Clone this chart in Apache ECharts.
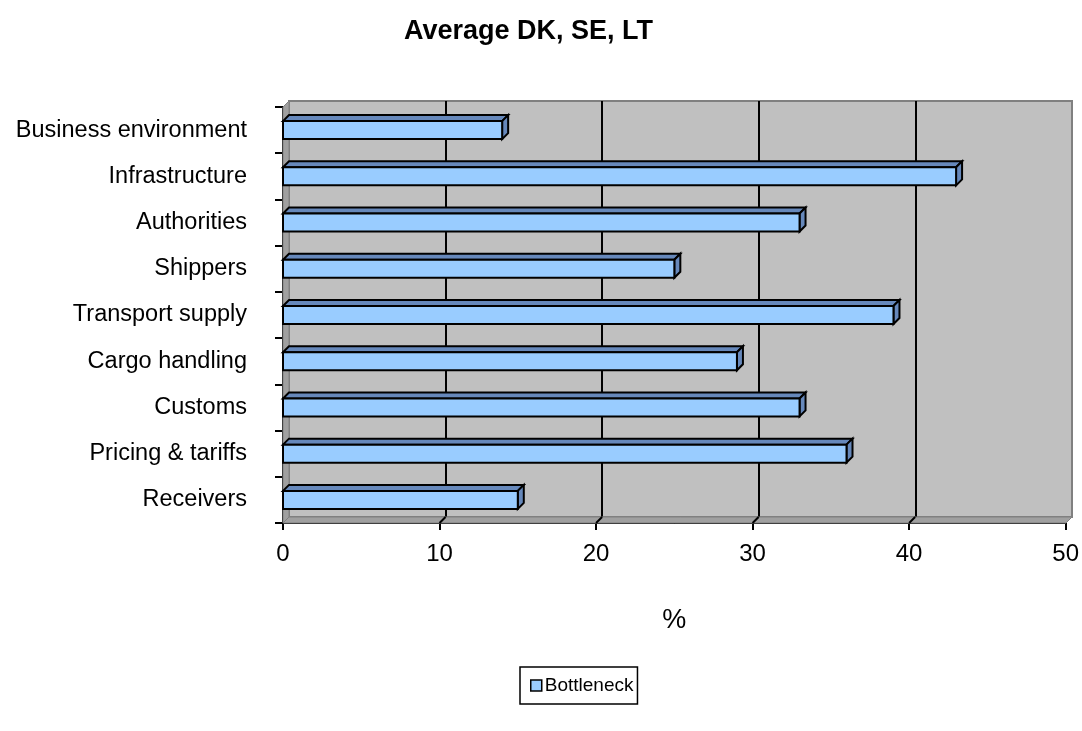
<!DOCTYPE html>
<html>
<head>
<meta charset="utf-8">
<script src="https://cdn.jsdelivr.net/npm/echarts@6/dist/echarts.min.js"></script>
<style>
  html, body { margin: 0; padding: 0; background: #fff; }
  #main { width: 1082px; height: 731px; }
</style>
</head>
<body>
<div id="main"></div>
<script>
// data
const categories = ['Business environment', 'Infrastructure', 'Authorities', 'Shippers', 'Transport supply',
  'Cargo handling', 'Customs', 'Pricing & tariffs', 'Receivers'];
const bottleneck = [14, 43, 33, 25, 39, 29, 33, 36, 15];
const xTicks = [0, 10, 20, 30, 40, 50];

// 3d depth of the excel style walls / bars
const D = 6;
const front = { left: 283, top: 107, right: 16, bottom: 208 };
const back = { left: front.left + D, top: front.top - D, right: front.right - D, bottom: front.bottom + D };

const font = 'Liberation Sans, Arial, sans-serif';
const chart = echarts.init(document.getElementById('main'));

function renderBar(params, api) {
  const v = api.value(0);
  const p0 = api.coord([0, api.value(1)]);
  const p1 = api.coord([v, api.value(1)]);
  const h = api.size([0, 1])[1] * 0.39;
  const top = p0[1] - h / 2, bot = p0[1] + h / 2;
  const x0 = p0[0], x1 = p1[0];
  const edge = { stroke: '#000', lineWidth: 2 };
  return {
    type: 'group',
    children: [
      { type: 'polygon', shape: { points: [[x0, top], [x0 + D, top - D], [x1 + D, top - D], [x1, top]] },
        style: Object.assign({ fill: '#6688BB' }, edge) },
      { type: 'polygon', shape: { points: [[x1, top], [x1 + D, top - D], [x1 + D, bot - D], [x1, bot]] },
        style: Object.assign({ fill: '#6688BB' }, edge) },
      { type: 'rect', shape: { x: x0, y: top, width: x1 - x0, height: h },
        style: Object.assign({ fill: '#99CCFF' }, edge) }
    ]
  };
}

const option = {
  animation: false,
  textStyle: { fontFamily: font },
  title: {
    text: 'Average DK, SE, LT',
    left: 399, top: 13,
    textStyle: { fontFamily: font, fontSize: 27, fontWeight: 'bold', color: '#000' }
  },
  legend: {
    data: [{ name: 'Bottleneck', itemStyle: { color: '#99CCFF', borderColor: '#000', borderWidth: 1.5 } }],
    left: 520, top: 667,
    icon: 'rect', itemWidth: 11, itemHeight: 11,
    borderColor: '#000', borderWidth: 1.5, borderRadius: 0,
    padding: [9, 4, 9, 10],
    textStyle: { fontFamily: font, fontSize: 19, color: '#000', padding: [0, 0, 0, -2] }
  },
  grid: [
    Object.assign({ show: true, backgroundColor: '#C0C0C0', borderColor: '#808080', borderWidth: 2 }, back),
    Object.assign({}, front)
  ],
  xAxis: [
    {
      gridIndex: 0, type: 'value', min: 0, max: 50, interval: 10,
      axisLine: { show: false }, axisTick: { show: false }, axisLabel: { show: false },
      splitLine: { show: true, showMinLine: false, showMaxLine: false, lineStyle: { color: '#000', width: 2 } }
    },
    {
      gridIndex: 1, type: 'value', min: xTicks[0], max: xTicks[xTicks.length - 1], interval: 10,
      name: '%', nameLocation: 'middle', nameGap: 84,
      nameTextStyle: { fontFamily: font, fontSize: 27, color: '#000' },
      axisLine: { show: true, lineStyle: { color: '#000', width: 2 } },
      axisTick: { show: true, length: 7, lineStyle: { color: '#000', width: 2 } },
      axisLabel: { fontSize: 24, color: '#000', margin: 19, fontFamily: font },
      splitLine: { show: false }
    }
  ],
  yAxis: [
    { gridIndex: 0, type: 'category', data: categories, inverse: true, show: false },
    {
      gridIndex: 1, type: 'category', data: categories, inverse: true,
      axisLine: { show: true, lineStyle: { color: '#000', width: 2 } },
      axisTick: { show: true, length: 8, lineStyle: { color: '#000', width: 2 } },
      axisLabel: { fontSize: 23.5, color: '#000', margin: 36, fontFamily: font },
      splitLine: { show: false }
    }
  ],
  series: [{
    name: 'Bottleneck',
    type: 'custom',
    xAxisIndex: 1, yAxisIndex: 1,
    itemStyle: { color: '#99CCFF', borderColor: '#000', borderWidth: 1 },
    renderItem: renderBar,
    encode: { x: 0, y: 1 },
    data: bottleneck.map((v, i) => [v, categories[i]]),
    z: 5
  }]
};
chart.setOption(option);

// floor, left wall and the little tick connectors (from axis pixel positions)
const W = chart.getWidth(), H = chart.getHeight();
const fx0 = front.left, fx1 = W - front.right, fy0 = front.top, fy1 = H - front.bottom;
const wallStyle = { fill: '#A0A0A0', stroke: '#808080', lineWidth: 1 };
const graphics = [
  { type: 'polygon', z: 1, shape: { points: [[fx0, fy1], [fx0 + D, fy1 - D], [fx1 + D, fy1 - D], [fx1, fy1]] }, style: wallStyle },
  { type: 'polygon', z: 1, shape: { points: [[fx0, fy0], [fx0 + D, fy0 - D], [fx0 + D, fy1 - D], [fx0, fy1]] }, style: wallStyle }
];
xTicks.slice(1, -1).forEach(t => {
  const x = chart.convertToPixel({ xAxisIndex: 1 }, t);
  graphics.push({ type: 'line', z: 2, shape: { x1: x, y1: fy1, x2: x + D, y2: fy1 - D },
    style: { stroke: '#000', lineWidth: 2 } });
});
chart.setOption({ graphic: graphics });
</script>
</body>
</html>
